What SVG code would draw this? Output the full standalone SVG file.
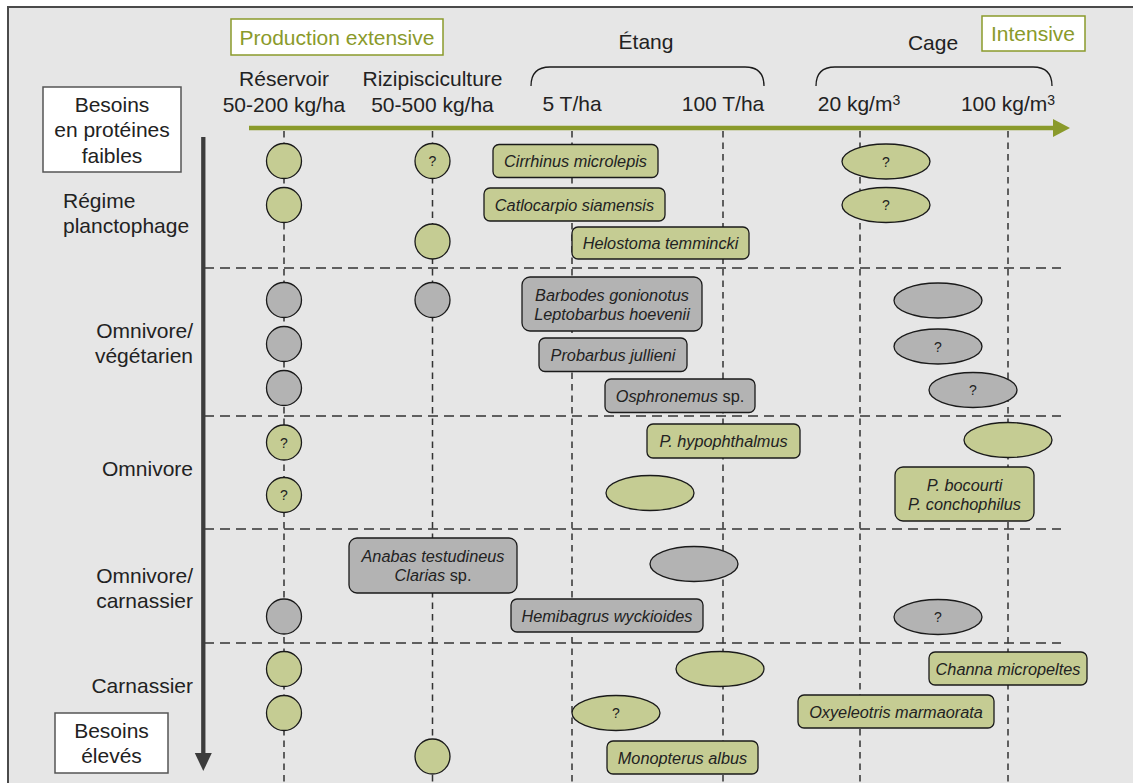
<svg xmlns="http://www.w3.org/2000/svg" width="1133" height="783" viewBox="0 0 1133 783">
<defs>
<style>
text{font-family:"Liberation Sans",Arial,Helvetica,sans-serif;fill:#222;}
.h{font-size:21px;}
.hc{font-size:21px;text-anchor:middle;}
.he{font-size:21px;text-anchor:end;}
.gr{font-size:21px;text-anchor:middle;fill:#8a9a2b;}
.sp{font-size:16.3px;font-style:italic;text-anchor:middle;}
.up{font-style:normal;}
.q{font-size:14px;text-anchor:middle;}
.gf{fill:#c5cc93;stroke:#1a1a1a;stroke-width:1.3;}
.kf{fill:#b3b3b3;stroke:#1a1a1a;stroke-width:1.3;}
.vd{stroke:#333;stroke-width:1.5;stroke-dasharray:6.5 5;fill:none;}
.hd{stroke:#333;stroke-width:1.5;stroke-dasharray:10 6;fill:none;}
.br{fill:none;stroke:#1a1a1a;stroke-width:1.3;}
</style>
</defs>
<rect x="0" y="0" width="1133" height="783" fill="#ffffff"/>
<rect x="8" y="7" width="1200" height="900" fill="#e6e6e6" stroke="#4a4a4a" stroke-width="2"/>

<g id="connectors">
  <!-- vertical column dashed lines -->
  <line class="vd" x1="284" y1="131" x2="284" y2="783"/>
  <line class="vd" x1="432.5" y1="131" x2="432.5" y2="783"/>
  <line class="vd" x1="572" y1="131" x2="572" y2="783"/>
  <line class="vd" x1="723" y1="131" x2="723" y2="783"/>
  <line class="vd" x1="860" y1="131" x2="860" y2="783"/>
  <line class="vd" x1="1008" y1="131" x2="1008" y2="783"/>
  <!-- horizontal dashed lines -->
  <line class="hd" x1="204" y1="268" x2="1061" y2="268"/>
  <line class="hd" x1="204" y1="416" x2="1061" y2="416"/>
  <line class="hd" x1="204" y1="529" x2="1061" y2="529"/>
  <line class="hd" x1="204" y1="643" x2="1061" y2="643"/>
  <!-- green horizontal axis -->
  <line x1="249" y1="128" x2="1055" y2="128" stroke="#8a9a2b" stroke-width="4.5"/>
  <polygon points="1053,119 1070,128 1053,137" fill="#8a9a2b"/>
  <!-- dark vertical axis -->
  <line x1="203.3" y1="137" x2="203.3" y2="755" stroke="#3c3c3c" stroke-width="4.3"/>
  <polygon points="194.8,753 211.8,753 203.3,771" fill="#3c3c3c"/>
  <!-- brackets -->
  <path class="br" d="M531,86 C531,73 537,67 550,67 L745,67 C758,67 764,73 764,86"/>
  <path class="br" d="M816,86 C816,73 822,67 835,67 L1033,67 C1046,67 1052,73 1052,86"/>
</g>

<g id="header-production-extensive">
  <rect x="231" y="19" width="212" height="36" fill="#ffffff" stroke="#8a9a2b" stroke-width="1.5"/>
  <text class="gr" x="337" y="45">Production extensive</text>
</g>
<g id="header-intensive">
  <rect x="982" y="16" width="103" height="35" fill="#ffffff" stroke="#8a9a2b" stroke-width="1.5"/>
  <text class="gr" x="1033" y="41">Intensive</text>
</g>
<g id="header-labels">
  <text class="hc" x="284" y="86">Réservoir</text>
  <text class="hc" x="284" y="112">50-200 kg/ha</text>
  <text class="hc" x="432.5" y="86">Rizipisciculture</text>
  <text class="hc" x="432.5" y="112">50-500 kg/ha</text>
  <text class="hc" x="646" y="49">Étang</text>
  <text class="hc" x="933" y="50">Cage</text>
  <text class="hc" x="572" y="111">5 T/ha</text>
  <text class="hc" x="723" y="111">100 T/ha</text>
  <text class="hc" x="859" y="111">20 kg/m<tspan font-size="14" dy="-6">3</tspan></text>
  <text class="hc" x="1008" y="111">100 kg/m<tspan font-size="14" dy="-6">3</tspan></text>
</g>

<g id="besoins-faibles">
  <rect x="43" y="87" width="138" height="85" fill="#ffffff" stroke="#555" stroke-width="1.5"/>
  <text class="hc" x="112" y="112">Besoins</text>
  <text class="hc" x="112" y="137">en protéines</text>
  <text class="hc" x="112" y="163">faibles</text>
</g>
<g id="besoins-eleves">
  <rect x="55" y="713" width="113" height="60" fill="#ffffff" stroke="#555" stroke-width="1.5"/>
  <text class="hc" x="111.5" y="738">Besoins</text>
  <text class="hc" x="111.5" y="763">élevés</text>
</g>

<g id="diet-labels">
  <text class="h" x="63" y="208">Régime</text>
  <text class="h" x="63" y="233">planctophage</text>
  <text class="he" x="193" y="338">Omnivore/</text>
  <text class="he" x="193" y="363">végétarien</text>
  <text class="he" x="193" y="476">Omnivore</text>
  <text class="he" x="193" y="583">Omnivore/</text>
  <text class="he" x="193" y="608">carnassier</text>
  <text class="he" x="193" y="693">Carnassier</text>
</g>

<!-- circles -->
<g id="c1"><circle class="gf" cx="284" cy="161" r="17.5"/></g>
<g id="c2"><circle class="gf" cx="432.5" cy="161" r="17.5"/><text class="q" x="432.5" y="166">?</text></g>
<g id="c3"><circle class="gf" cx="284" cy="205" r="17.5"/></g>
<g id="c4"><circle class="gf" cx="432.5" cy="241.5" r="17.5"/></g>
<g id="c5"><circle class="kf" cx="284" cy="300" r="17.5"/></g>
<g id="c6"><circle class="kf" cx="432.5" cy="300" r="17.5"/></g>
<g id="c7"><circle class="kf" cx="284" cy="344" r="17.5"/></g>
<g id="c8"><circle class="kf" cx="284" cy="388" r="17.5"/></g>
<g id="c9"><circle class="gf" cx="284" cy="442.5" r="17.5"/><text class="q" x="284" y="447.5">?</text></g>
<g id="c10"><circle class="gf" cx="284" cy="495" r="17.5"/><text class="q" x="284" y="500">?</text></g>
<g id="c11"><circle class="kf" cx="284" cy="616.5" r="17.5"/></g>
<g id="c12"><circle class="gf" cx="284" cy="669" r="17.5"/></g>
<g id="c13"><circle class="gf" cx="284" cy="713" r="17.5"/></g>
<g id="c14"><circle class="gf" cx="432.5" cy="756.5" r="17.5"/></g>

<!-- ellipses -->
<g id="e1"><ellipse class="gf" cx="886" cy="161.5" rx="44" ry="17.5"/><text class="q" x="886" y="166.5">?</text></g>
<g id="e2"><ellipse class="gf" cx="886" cy="205" rx="44" ry="17.5"/><text class="q" x="886" y="210">?</text></g>
<g id="e3"><ellipse class="kf" cx="938" cy="300.5" rx="44" ry="17.5"/></g>
<g id="e4"><ellipse class="kf" cx="938" cy="346.5" rx="44" ry="17.5"/><text class="q" x="938" y="351.5">?</text></g>
<g id="e5"><ellipse class="kf" cx="973" cy="390" rx="44" ry="17.5"/><text class="q" x="973" y="395">?</text></g>
<g id="e6"><ellipse class="gf" cx="1008" cy="440" rx="44" ry="17.5"/></g>
<g id="e7"><ellipse class="gf" cx="650" cy="493" rx="44" ry="17.5"/></g>
<g id="e8"><ellipse class="kf" cx="694" cy="564" rx="44" ry="17.5"/></g>
<g id="e9"><ellipse class="kf" cx="938" cy="617" rx="44" ry="17.5"/><text class="q" x="938" y="622">?</text></g>
<g id="e10"><ellipse class="gf" cx="720" cy="669" rx="44" ry="17.5"/></g>
<g id="e11"><ellipse class="gf" cx="616" cy="713" rx="44" ry="17.5"/><text class="q" x="616" y="718">?</text></g>

<!-- species boxes -->
<g id="cirrhinus"><rect class="gf" x="493" y="144.5" width="165" height="33" rx="6"/><text class="sp" x="575.5" y="167">Cirrhinus microlepis</text></g>
<g id="catlocarpio"><rect class="gf" x="484" y="188" width="181" height="33" rx="6"/><text class="sp" x="574.5" y="210.5">Catlocarpio siamensis</text></g>
<g id="helostoma"><rect class="gf" x="572" y="227" width="177" height="32" rx="6"/><text class="sp" x="660.5" y="249">Helostoma temmincki</text></g>
<g id="barbodes"><rect class="kf" x="522" y="277" width="180" height="54" rx="8"/><text class="sp" x="612" y="300.5">Barbodes gonionotus</text><text class="sp" x="612" y="319.5">Leptobarbus hoevenii</text></g>
<g id="probarbus"><rect class="kf" x="539" y="338" width="148" height="33.5" rx="6"/><text class="sp" x="613" y="360.5">Probarbus jullieni</text></g>
<g id="osphronemus"><rect class="kf" x="605" y="379" width="150" height="33.5" rx="6"/><text class="sp" x="680" y="401.5">Osphronemus<tspan class="up"> sp.</tspan></text></g>
<g id="hypophthalmus"><rect class="gf" x="647" y="424" width="153" height="34" rx="6"/><text class="sp" x="723.5" y="447">P. hypophthalmus</text></g>
<g id="bocourti"><rect class="gf" x="895" y="467" width="139" height="54" rx="8"/><text class="sp" x="964.5" y="490.5">P. bocourti</text><text class="sp" x="964.5" y="509.5">P. conchophilus</text></g>
<g id="anabas"><rect class="kf" x="349" y="538" width="168" height="55" rx="8"/><text class="sp" x="433" y="561.5">Anabas testudineus</text><text class="sp" x="433" y="580.5">Clarias<tspan class="up"> sp.</tspan></text></g>
<g id="hemibagrus"><rect class="kf" x="511" y="599" width="192" height="33" rx="6"/><text class="sp" x="607" y="621.5">Hemibagrus wyckioides</text></g>
<g id="channa"><rect class="gf" x="929" y="652" width="158" height="33" rx="6"/><text class="sp" x="1008" y="674.5">Channa micropeltes</text></g>
<g id="oxyeleotris"><rect class="gf" x="798" y="695" width="196" height="33" rx="6"/><text class="sp" x="896" y="717.5">Oxyeleotris marmaorata</text></g>
<g id="monopterus"><rect class="gf" x="607" y="741" width="151" height="33" rx="6"/><text class="sp" x="682.5" y="763.5">Monopterus albus</text></g>
</svg>
